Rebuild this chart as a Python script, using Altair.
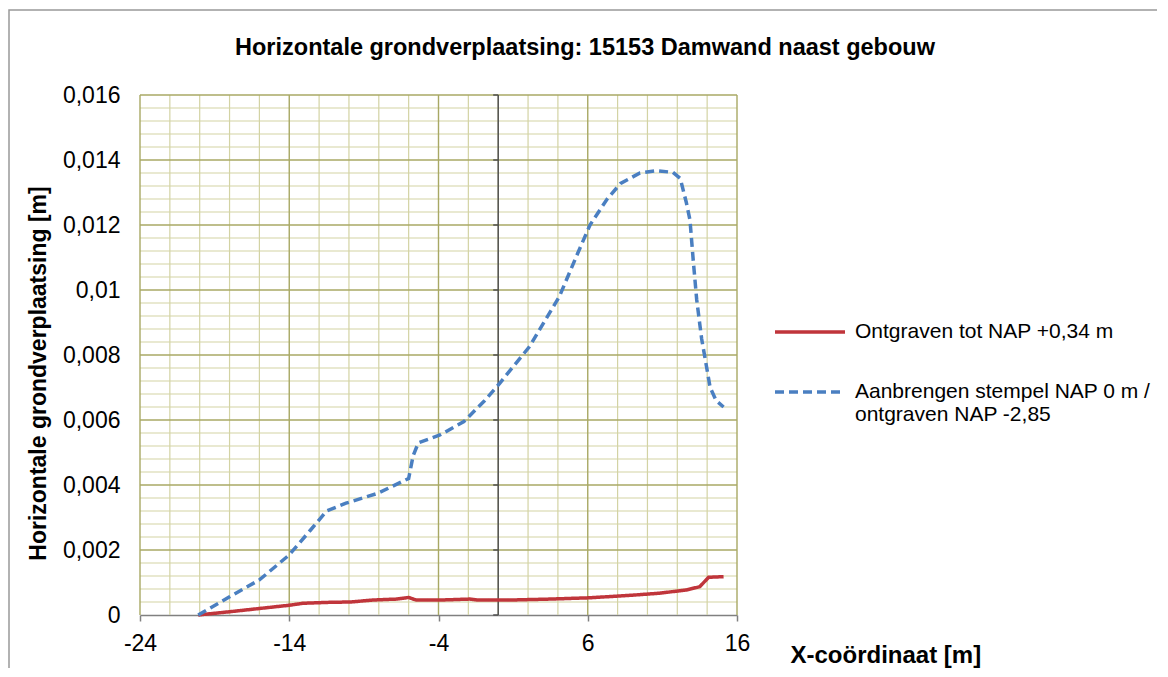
import altair as alt
import pandas as pd

# ---- data ----
title_text = "Horizontale grondverplaatsing: 15153 Damwand naast gebouw"
red_label = "Ontgraven tot NAP +0,34 m"
blue_label = "Aanbrengen stempel NAP 0 m / ontgraven NAP -2,85"

red_x = [-20.1, -18, -16, -14, -13.1, -11.3, -9.9, -8.4, -6.8, -6.0, -5.5, -3.9, -1.9, -1.4,
         0.8, 3.5, 6.15, 9.0, 10.8, 12.6, 13.5, 14.1, 15.1]
red_y = [0.0, 0.0001, 0.0002, 0.0003, 0.00036, 0.00039, 0.0004, 0.00046, 0.00049, 0.00054,
         0.00046, 0.00046, 0.00049, 0.00046, 0.00046, 0.00049, 0.00053, 0.00061, 0.00067,
         0.00077, 0.00087, 0.00116, 0.00118]

blue_x = [-20.1, -18, -16, -14, -12.6, -11.5, -10.2, -8.1, -6.0, -5.7, -5.35, -3.9, -2.3, -0.9,
          0.1, 2.1, 4.1, 5.3, 6.15, 7.3, 8.2, 9.5, 10.6, 11.7, 12.2, 12.6, 12.85, 13.07, 13.3,
          13.63, 13.86, 14.2, 14.6, 15.1]
blue_y = [0.0, 0.00056, 0.00108, 0.00185, 0.0026, 0.0032, 0.00344, 0.00374, 0.0042, 0.0049,
          0.0053, 0.00554, 0.00595, 0.0066, 0.00713, 0.00826, 0.0098, 0.0111, 0.012, 0.0128,
          0.01328, 0.0136, 0.01367, 0.01362, 0.01343, 0.0127, 0.01215, 0.0109, 0.0097,
          0.0085, 0.0079, 0.0070, 0.0066, 0.0064]

x_major = [-24, -14, -4, 6, 16]
x_minor = [v for v in range(-24, 17, 2) if v not in x_major]
y_major = [0, 0.002, 0.004, 0.006, 0.008, 0.01, 0.012, 0.014, 0.016]
y_minor = [round(i * 0.0004, 4) for i in range(41) if i % 5 != 0]

FONT = "Liberation Sans"
W, H = 597, 520

df = pd.DataFrame(
    [{"x": a, "y": b, "series": red_label} for a, b in zip(red_x, red_y)]
    + [{"x": a, "y": b, "series": blue_label} for a, b in zip(blue_x, blue_y)]
)

xs = alt.Scale(domain=[-24, 16], nice=False, zero=False)
ys = alt.Scale(domain=[0, 0.016], nice=False)

minor_c = "#d3d3a4"
major_c = "#a8a864"

vminor = alt.Chart(pd.DataFrame({"x": x_minor})).mark_rule(color=minor_c, strokeWidth=1.2).encode(
    x=alt.X("x:Q", scale=xs))
hminor = alt.Chart(pd.DataFrame({"y": y_minor})).mark_rule(color=minor_c, strokeWidth=1.2).encode(
    y=alt.Y("y:Q", scale=ys))
vmajor = alt.Chart(pd.DataFrame({"x": x_major})).mark_rule(color=major_c, strokeWidth=1.4).encode(
    x=alt.X("x:Q", scale=xs))
hmajor = alt.Chart(pd.DataFrame({"y": y_major[1:]})).mark_rule(color=major_c, strokeWidth=1.4).encode(
    y=alt.Y("y:Q", scale=ys))

zero_line = alt.Chart(pd.DataFrame({"x": [0]})).mark_rule(color="#505050", strokeWidth=1.5).encode(
    x=alt.X("x:Q", scale=xs))
zero_ticks = alt.Chart(pd.DataFrame({"y": y_major, "x": [0] * len(y_major)})).mark_rule(
    color="#505050", strokeWidth=1.5, x2Offset=-5).encode(
    x=alt.X("x:Q", scale=xs), x2="x:Q", y=alt.Y("y:Q", scale=ys))

lines = alt.Chart(df).mark_line(strokeWidth=3.5, strokeCap="butt").encode(
    x=alt.X("x:Q", scale=xs,
            axis=alt.Axis(values=x_major, grid=False, domainColor="#808080", domainWidth=1.5,
                          tickColor="#808080", tickWidth=1.5, tickSize=6, labelFlush=False,
                          labelExpr="'' + datum.value",
                          labelFont=FONT, labelFontSize=23, labelColor="#000", labelPadding=11,
                          title="X-coördinaat [m]", titleFont=FONT, titleFontSize=24,
                          titleFontWeight="bold", titleColor="#000", titleX=650, titleY=40,
                          titleAlign="left", titleBaseline="middle")),
    y=alt.Y("y:Q", scale=ys,
            axis=alt.Axis(values=y_major, grid=False, domain=False, ticks=False, labelFlush=False,
                          labelExpr="replace(format(datum.value, ''), '.', ',')",
                          labelFont=FONT, labelFontSize=23, labelColor="#000", labelPadding=20,
                          title="Horizontale grondverplaatsing [m]", titleFont=FONT,
                          titleFontSize=23, titleFontWeight="bold", titleColor="#000",
                          titleX=-102, titleY=278, titleAngle=-90, titleAlign="center",
                          titleBaseline="middle")),
    color=alt.Color("series:N",
                    scale=alt.Scale(domain=[red_label, blue_label], range=["#c0353b", "#4a7fc1"]),
                    legend=alt.Legend(orient="none", legendX=633, legendY=200, title=None,
                                      symbolType="stroke", symbolSize=4900, symbolStrokeWidth=3.5,
                                      labelFont=FONT, labelFontSize=21, labelColor="#000",
                                      labelOffset=8, rowPadding=13, labelLimit=450,
                                      labelExpr="datum.label == '" + blue_label + "' ? ['Aanbrengen stempel NAP 0 m /', 'ontgraven NAP -2,85'] : datum.label")),
    strokeDash=alt.StrokeDash("series:N",
                              scale=alt.Scale(domain=[red_label, blue_label], range=[[1, 0], [9, 5]]),
                              legend=None),
)

frame = alt.Chart(alt.Data(values=[{}])).mark_rect(fill=None, stroke="#999999", strokeWidth=1.5).encode(
    x=alt.value(-131), x2=alt.value(1019), y=alt.value(-85), y2=alt.value(700))

title = alt.Chart(alt.Data(values=[{"t": title_text}])).mark_text(
    font=FONT, fontSize=23.5, fontWeight="bold", color="#000", align="center", baseline="middle").encode(
    text="t:N", x=alt.value(445), y=alt.value(-47))

chart = alt.layer(frame, vminor, hminor, vmajor, hmajor, zero_line, zero_ticks, lines, title).properties(
    width=W, height=H,
    padding={"left": 132, "top": 87, "right": 420, "bottom": 53},
    autosize=alt.AutoSizeParams(type="none"),
).configure_view(stroke=None)

chart.save("out.html", embed_options={"renderer": "svg", "actions": False})
